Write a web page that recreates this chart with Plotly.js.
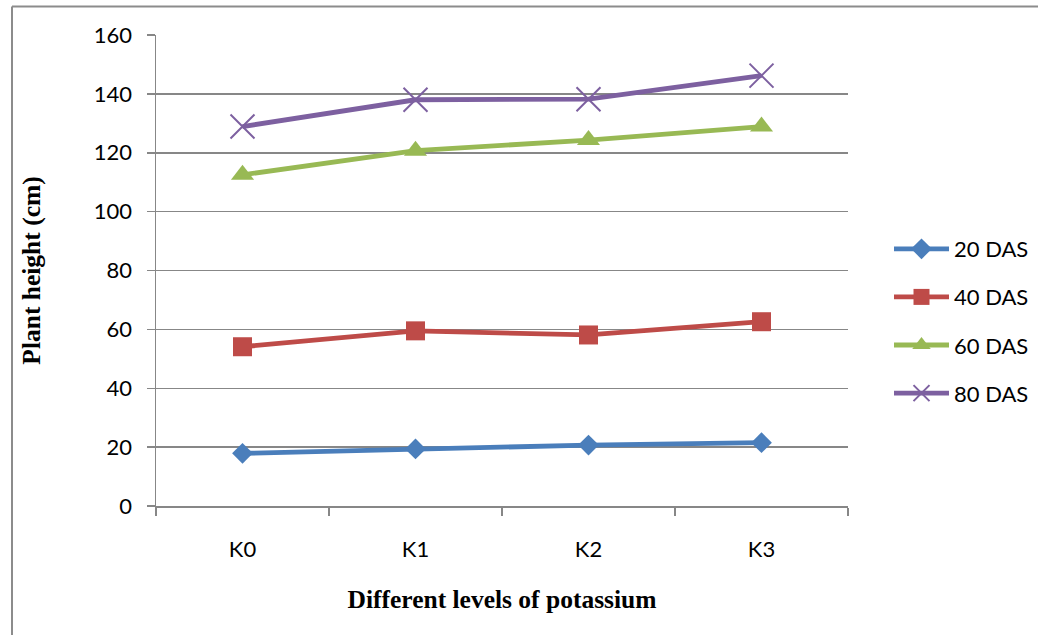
<!DOCTYPE html>
<html>
<head>
<meta charset="utf-8">
<script src="https://cdn.plot.ly/plotly-3.0.1.min.js"></script>
<style>
  html, body { margin: 0; padding: 0; background: #fff; }
  #chart { width: 1038px; height: 635px; }
</style>
</head>
<body>
<div id="chart"></div>
<script>
// Potassium levels on the category axis
const levels = ['K0', 'K1', 'K2', 'K3'];

// Plant height (cm) at each sampling date
const das20 = [17.9, 19.4, 20.7, 21.5];
const das40 = [54.1, 59.5, 58.1, 62.6];
const das60 = [112.5, 120.7, 124.3, 128.9];
const das80 = [128.9, 138.0, 138.2, 146.2];

const seriesNames = ['20 DAS', '40 DAS', '60 DAS', '80 DAS'];
const yTicks = [0, 20, 40, 60, 80, 100, 120, 140, 160];

const colors = ['#4A7EBB', '#BE4B48', '#98B954', '#7D60A0'];
const symbols = ['diamond', 'square', 'triangle-up', 'x-thin'];
const sizes = [16, 19, 20, 24];

const values = [das20, das40, das60, das80];
const traces = values.map((v, i) => ({
  type: 'scatter',
  mode: 'lines+markers',
  x: levels,
  y: v,
  name: seriesNames[i],
  legendgroup: 'g' + i,
  line: { color: colors[i], width: 4.8 },
  marker: {
    symbol: symbols[i],
    size: sizes[i],
    color: colors[i],
    line: { color: colors[i], width: i === 3 ? 2 : 0 }
  }
}));

const L = 156, R = 190, T = 35, B = 129;
const plotW = 1038 - L - R, plotH = 635 - T - B;
const px = x => (x - L) / plotW;        // pixel -> paper x
const py = y => (635 - B - y) / plotH;  // pixel -> paper y

const serif = '"Liberation Serif", "Times New Roman", serif';

const layout = {
  width: 1038,
  height: 635,
  margin: { l: L, r: R, t: T, b: B, pad: 0, autoexpand: false },
  paper_bgcolor: '#ffffff',
  plot_bgcolor: '#ffffff',
  font: { family: 'Lato, "Open Sans", sans-serif', size: 22, color: '#000' },
  showlegend: true,
  legend: {
    x: px(889), xanchor: 'left',
    y: py(321), yanchor: 'middle',
    font: { family: 'Lato, sans-serif', size: 22, color: '#000' },
    itemwidth: 55,
    tracegroupgap: 16.5,
    bgcolor: 'rgba(0,0,0,0)'
  },
  xaxis: {
    type: 'category',
    tickson: 'boundaries',
    ticks: 'outside',
    ticklen: 8,
    tickwidth: 1.5,
    tickcolor: '#878787',
    showline: true,
    linecolor: '#878787',
    linewidth: 1.5,
    showgrid: false,
    zeroline: false,
    ticklabelstandoff: 23,
    range: [-0.5, 3.5],
    title: {
      text: 'Different levels of potassium',
      font: { family: serif, size: 25.5, color: '#000', weight: 'bold' },
      standoff: 29
    }
  },
  yaxis: {
    range: [0, 160],
    tickvals: yTicks,
    ticks: 'outside',
    ticklen: 8,
    tickwidth: 1.5,
    tickcolor: '#878787',
    showline: true,
    linecolor: '#878787',
    linewidth: 1.5,
    showgrid: true,
    gridcolor: '#878787',
    gridwidth: 1.5,
    zeroline: false,
    ticklabelstandoff: 10,
    title: {
      text: 'Plant height (cm)',
      font: { family: serif, size: 25.5, color: '#000', weight: 'bold' },
      standoff: 46
    }
  },
  shapes: [
    // outer frame: top and left edges
    { type: 'line', xref: 'paper', yref: 'paper', x0: px(12), x1: px(1040), y0: py(6.5), y1: py(6.5),
      line: { color: '#8c8c8c', width: 2 } },
    { type: 'line', xref: 'paper', yref: 'paper', x0: px(12), x1: px(12), y0: py(6.5), y1: py(640),
      line: { color: '#8c8c8c', width: 2 } }
  ]
};

Plotly.newPlot('chart', traces, layout, { displayModeBar: false, staticPlot: true });
</script>
</body>
</html>
